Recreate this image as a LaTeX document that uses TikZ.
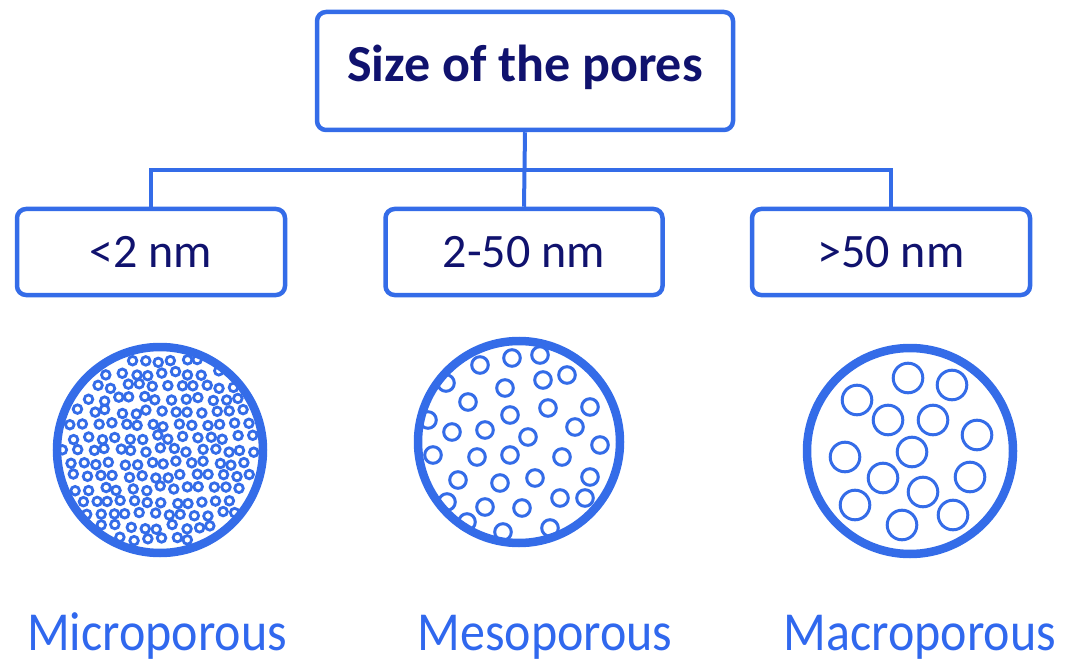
\documentclass[tikz,border=0pt]{standalone}
\usepackage{fontspec}
\setmainfont{Carlito}
\definecolor{lineblue}{RGB}{52,108,232}
\definecolor{navy}{RGB}{16,18,110}
\definecolor{labelblue}{RGB}{48,104,238}
\tikzset{
  box/.style={draw=lineblue, line width=4.5pt, rounded corners=9pt, fill=white,
    inner sep=0pt, text=navy},
  link/.style={draw=lineblue, line width=4pt},
  rim/.style={draw=lineblue, line width=8.5pt},
  pore/.style={draw=lineblue, line width=#1},
  kind/.style={text=labelblue, font=\fontsize{50}{56}\selectfont, anchor=base,
    yscale=1.1},
}
\begin{document}
\begin{tikzpicture}[x=1pt, y=-1pt]
  \useasboundingbox (0,0) rectangle (1076,663);

  % classification boxes
  \node[box, minimum width=416pt, minimum height=118pt,
        text height=33pt, text depth=11pt,
        font=\fontsize{52}{60}\selectfont\bfseries] (top) at (525,71) {Size of the pores};
  \node[box, minimum width=268pt, minimum height=86pt,
        text height=34pt, text depth=4pt,
        font=\fontsize{48}{56}\selectfont] (small) at (151,252) {<2 nm};
  \node[box, minimum width=277pt, minimum height=86pt,
        text height=34pt, text depth=4pt,
        font=\fontsize{48}{56}\selectfont] (mid) at (524,252) {2-50 nm};
  \node[box, minimum width=278pt, minimum height=86pt,
        text height=34pt, text depth=4pt,
        font=\fontsize{48}{56}\selectfont] (large) at (891,252) {>50 nm};

  % tree connectors
  \coordinate (bar) at (524,170);
  \draw[link] (top.south) -- (mid.north);
  \draw[link] (small.north) |- (bar) -| (large.north);

  % microporous disc: dense field of tiny pores on a jittered grid
  \pgfmathsetseed{17}
  \foreach \i in {-8,...,8} {
    \foreach \j in {-8,...,8} {
      \pgfmathsetmacro\px{\i*13.6 + \j*4.1 + 2.5*rand}
      \pgfmathsetmacro\py{\j*12.8 + 2.5*rand}
      \pgfmathsetmacro\pd{10*sqrt((\px/10)^2 + (\py/10)^2)}
      \ifdim\pd pt<99pt
        \draw[pore=2.8pt] (160+\px,450+\py) circle[radius=4.3pt];
      \fi
    }
  }
  \draw[rim] (160,450) circle[radius=103pt];

  % mesoporous disc
  \foreach \x/\y in {446/383, 480/365, 512/358, 540/355, 543/380, 567/375,
      505/388, 468/402, 510/415, 548/408, 590/407, 428/420, 452/432,
      485/430, 528/437, 575/427, 600/445, 433/455, 477/457, 510/455,
      562/457, 458/480, 500/483, 535/478, 590/477, 447/502, 485/507,
      522/508, 560/498, 585/498, 467/522, 503/532, 550/528}
    \draw[pore=3pt] (\x,\y) circle[radius=8.3pt];
  \draw[rim] (519,442) circle[radius=101pt];

  % macroporous disc
  \foreach \x/\y in {908/378, 952/385, 857/400, 888/420, 933/420, 977/435,
      845/457, 912/452, 883/478, 970/477, 923/492, 855/505, 953/515, 902/525}
    \draw[pore=3pt] (\x,\y) circle[radius=14.8pt];
  \draw[rim] (910,451) circle[radius=103pt];

  % category names
  \node[kind] (micro) at (157,650) {Microporous};
  \node[kind] (meso) at (545,650) {Mesoporous};
  \node[kind] (macro) at (920,650) {Macroporous};
\end{tikzpicture}
\end{document}
